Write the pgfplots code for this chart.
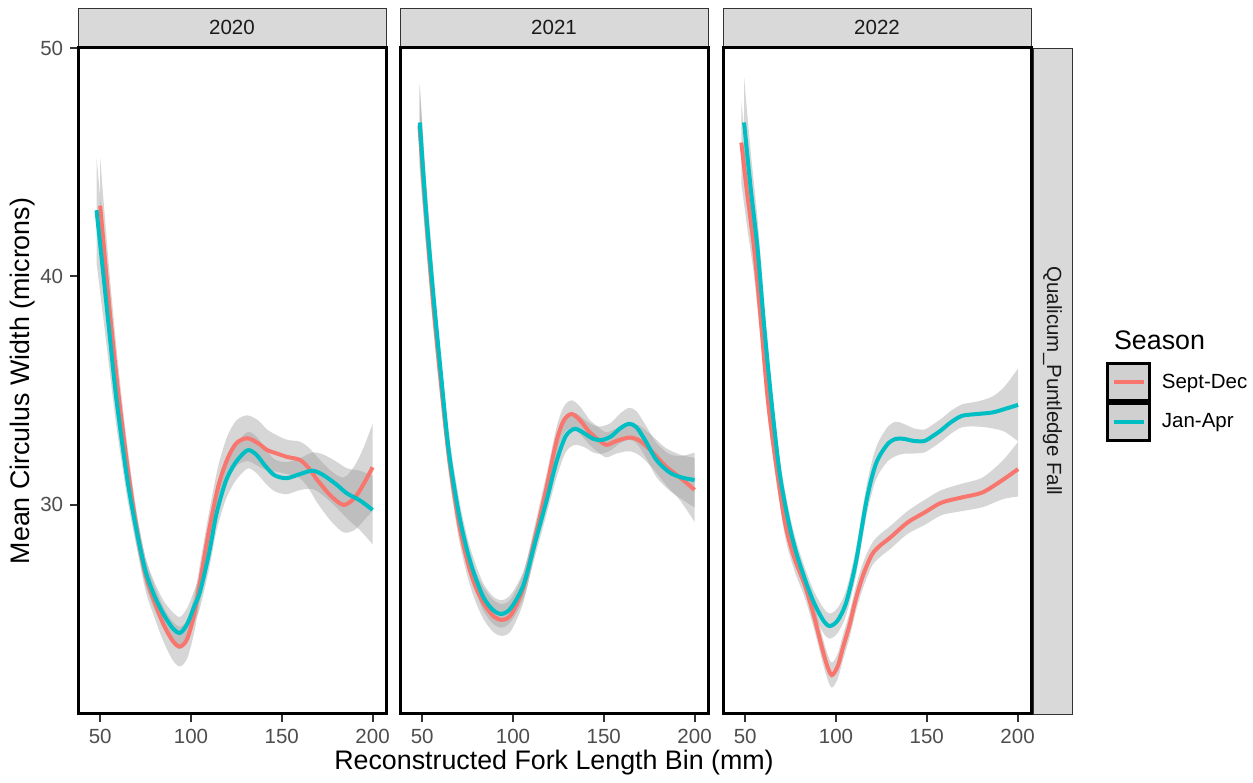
\documentclass[border=0pt]{standalone}
\usepackage{fontspec}
\setmainfont{Liberation Sans}
\usepackage{pgfplots}
\usepackage{pgfplotstable}
\pgfplotsset{compat=1.18}
\usepgfplotslibrary{fillbetween}
\definecolor{sd}{HTML}{F8766D}
\definecolor{ja}{HTML}{00BFC4}
\definecolor{rib}{HTML}{999999}
\definecolor{stripfill}{HTML}{D9D9D9}
\definecolor{stripdraw}{HTML}{333333}
\definecolor{ticklab}{HTML}{4D4D4D}
\definecolor{tickcol}{HTML}{333333}
\definecolor{striptext}{HTML}{1A1A1A}
\definecolor{keygray}{HTML}{D0D0D0}

% 2020
\pgfplotstableread{
x y lo hi
50 43.1 41.0 45.2
55 38.7 37.1 40.3
60 34.9 33.7 36.1
65 31.7 30.8 32.6
70 29.0 28.25 29.75
75 26.95 26.25 27.65
80 25.75 25.05 26.45
85 24.75 24.0 25.5
90 24.05 23.2 24.9
94 23.8 22.93 24.67
98 24.15 23.3 25.0
102 25.3 24.5 26.1
106 27.1 26.3 27.9
110 28.9 28.1 29.7
115 30.8 29.9 31.7
120 32.0 31.0 33.0
125 32.7 31.7 33.7
131 32.92 31.92 33.92
137 32.7 31.7 33.7
142 32.4 31.5 33.3
147 32.26 31.46 33.06
153 32.1 31.35 32.85
160 31.97 31.17 32.77
165 31.6 30.7 32.5
169.5 31.1 30.1 32.1
177 30.4 29.3 31.5
184 30.0 28.8 31.2
190 30.3 28.9 31.7
195 30.9 29.3 32.5
200 31.65 29.75 33.55
}\sdA
\pgfplotstableread{
x y lo hi
48 42.9 40.6 45.2
52 39.9 38.0 41.8
55 37.6 36.0 39.2
59 34.6 33.4 35.8
65 31.1 30.25 31.95
70 28.9 28.2 29.6
75 27.1 26.5 27.7
80 26.0 25.4 26.6
85 25.2 24.6 25.8
90 24.6 23.9 25.3
94 24.4 23.7 25.1
98 24.8 24.1 25.5
102 25.6 24.9 26.3
105 26.2 25.5 26.9
110 27.9 27.2 28.6
114 29.6 28.85 30.35
119 31.0 30.2 31.8
123.3 31.7 30.9 32.5
127 32.1 31.3 32.9
131.5 32.4 31.6 33.2
136 32.2 31.4 33.0
141 31.7 30.95 32.45
146 31.3 30.6 32.0
152.6 31.17 30.47 31.87
160 31.35 30.65 32.05
167 31.5 30.7 32.3
173 31.3 30.4 32.2
180 30.9 29.9 31.9
186 30.5 29.4 31.6
193 30.2 28.9 31.5
200 29.78 28.28 31.28
}\jaA
% 2021
\pgfplotstableread{
x y lo hi
48.5 46.6 44.8 48.4
52 42.8 41.4 44.2
56 38.9 37.8 40.0
60 35.6 34.7 36.5
64.6 32.2 31.4 33.0
70 29.3 28.6 30.0
74.7 27.6 26.95 28.25
79 26.5 25.85 27.15
83.8 25.7 25.0 26.4
89 25.15 24.45 25.85
93.9 24.97 24.27 25.67
99 25.2 24.5 25.9
105.8 26.4 25.75 27.05
112 28.5 27.9 29.1
118.6 30.8 30.2 31.4
124 32.8 32.2 33.4
128 33.7 33.1 34.3
132.3 33.98 33.38 34.58
137 33.7 33.1 34.3
142 33.2 32.65 33.75
147 32.85 32.3 33.4
151.5 32.63 32.08 33.18
157 32.8 32.25 33.35
164.2 32.95 32.35 33.55
170 32.8 32.15 33.45
177 32.3 31.6 33.0
184 31.7 30.9 32.5
192 31.2 30.2 32.2
200 30.66 29.26 32.06
}\sdB
\pgfplotstableread{
x y lo hi
48.7 46.74 45.04 48.44
52 43.0 41.6 44.4
56.4 38.97 37.87 40.07
60 36.0 35.1 36.9
64.6 32.41 31.61 33.21
70 29.7 29.0 30.4
74.7 28.03 27.43 28.63
79 26.9 26.3 27.5
83.8 25.95 25.35 26.55
89 25.4 24.8 26.0
93.9 25.23 24.63 25.83
99 25.5 24.9 26.1
105.8 26.5 25.9 27.1
112 28.3 27.7 28.9
118.6 30.22 29.62 30.82
124 31.9 31.2 32.6
129 33.0 32.3 33.7
134.1 33.33 32.63 34.03
140 33.1 32.5 33.7
144 32.9 32.3 33.5
148.8 32.84 32.24 33.44
154 33.0 32.4 33.6
159 33.35 32.7 34.0
163.9 33.55 32.85 34.25
168 33.4 32.7 34.1
173 32.8 32.1 33.5
179 31.97 31.22 32.72
186.3 31.42 30.62 32.22
193 31.2 30.25 32.15
200 31.09 29.89 32.29
}\jaB
% 2022
\pgfplotstableread{
x y lo hi
47.9 45.86 44.06 47.66
51 43.7 42.2 45.2
55 41.16 39.96 42.36
58.5 38.2 37.2 39.2
62.5 34.6 33.8 35.4
67 31.8 31.1 32.5
72 29.2 28.6 29.8
77 27.7 27.15 28.25
83 26.45 25.9 27.0
88 25.1 24.55 25.65
92 23.85 23.3 24.4
95 23.0 22.45 23.55
97.7 22.55 22.0 23.1
101 22.95 22.4 23.5
104 23.8 23.25 24.35
107.5 24.75 24.2 25.3
111 25.9 25.35 26.45
115 26.94 26.39 27.49
119.7 27.81 27.31 28.31
124 28.2 27.7 28.7
130 28.58 28.08 29.08
139.4 29.23 28.73 29.73
148.8 29.67 29.12 30.22
158.1 30.1 29.55 30.65
169.4 30.33 29.73 30.93
180.7 30.55 29.9 31.2
191.9 31.1 30.25 31.95
200.3 31.57 30.37 32.77
}\sdC
\pgfplotstableread{
x y lo hi
49.4 46.74 44.74 48.74
53 43.9 42.3 45.5
56.9 41.16 39.86 42.46
60.5 37.8 36.8 38.8
64.4 34.6 33.8 35.4
69 31.4 30.75 32.05
73.8 29.3 28.75 29.85
78 27.95 27.45 28.45
83.1 26.7 26.2 27.2
88 25.7 25.2 26.2
93 24.95 24.4 25.5
96.6 24.7 24.15 25.25
101 24.95 24.4 25.5
105.7 25.75 25.2 26.3
111 27.5 26.9 28.1
116.9 30.22 29.57 30.87
122 31.8 31.1 32.5
128.1 32.63 31.88 33.38
132.9 32.89 32.14 33.64
137.5 32.89 32.24 33.54
143 32.8 32.25 33.35
148.8 32.8 32.3 33.3
153 33.0 32.5 33.5
158.1 33.28 32.78 33.78
163 33.6 33.1 34.1
169.4 33.9 33.4 34.4
178 33.98 33.43 34.53
186.3 34.05 33.35 34.75
193 34.2 33.2 35.2
200.3 34.38 32.78 35.98
}\jaC

\newcommand{\tickfont}{\fontsize{10.25}{12}\selectfont}
\newcommand{\labfont}{\fontsize{13.4}{16}\selectfont}

\pgfplotsset{
  panel/.style={
    scale only axis, width=154pt, height=333pt,
    xmin=37.8, xmax=207.4, ymin=20.85, ymax=50.0,
    axis line style={black, line width=1.5pt},
    axis on top,
    tick align=outside, major tick length=3.9pt,
    tick style={color=tickcol, line width=1pt},
    major tick style={color=tickcol, line width=1pt},
    xtick={50,100,150,200}, ytick={30,40,50},
    xtick pos=left, ytick pos=left,
    /pgf/number format/assume math mode=true,
    every tick label/.append style={font=\tickfont, text=ticklab},
  }
}

\newcommand{\band}[2]{%
  \addplot[name path=#1hi, draw=none, smooth, forget plot] table[x=x,y=hi]{#2};
  \addplot[name path=#1lo, draw=none, smooth, forget plot] table[x=x,y=lo]{#2};
  \addplot[fill=rib, fill opacity=0.4, draw=none, forget plot] fill between[of=#1hi and #1lo];
}

\begin{document}
\begin{tikzpicture}
\path (0pt,0pt) rectangle (626.5pt,390pt);

% strips
\draw[fill=stripfill, draw=stripdraw, line width=0.4pt] (39pt,367pt) rectangle (193pt,386pt);
\draw[fill=stripfill, draw=stripdraw, line width=0.4pt] (200pt,367pt) rectangle (354pt,386pt);
\draw[fill=stripfill, draw=stripdraw, line width=0.4pt] (361.5pt,367pt) rectangle (515.5pt,386pt);
\node[font=\tickfont, text=striptext] at (116pt,376.5pt) {2020};
\node[font=\tickfont, text=striptext] at (277pt,376.5pt) {2021};
\node[font=\tickfont, text=striptext] at (438.5pt,376.5pt) {2022};
\draw[fill=stripfill, draw=stripdraw, line width=0.4pt] (516.5pt,33pt) rectangle (536pt,366pt);
\node[font=\tickfont, text=striptext, rotate=-90] at (526.25pt,199.5pt) {Qualicum\_Puntledge Fall};

\begin{axis}[panel, at={(39pt,33pt)}, anchor=south west,
  ylabel={Mean Circulus Width (microns)},
  ylabel style={at={(rel axis cs:-0.1786,0.5)}, anchor=center, font=\labfont},
]
\band{s}{\sdA}
\addplot[sd, line width=2pt, smooth] table[x=x,y=y]{\sdA};
\band{j}{\jaA}
\addplot[ja, line width=2pt, smooth] table[x=x,y=y]{\jaA};
\end{axis}

\begin{axis}[panel, at={(200pt,33pt)}, anchor=south west, ytick=\empty,
  xlabel={Reconstructed Fork Length Bin (mm)},
  xlabel style={at={(rel axis cs:0.5,-0.0736)}, anchor=center, font=\labfont},
]
\band{s}{\sdB}
\addplot[sd, line width=2pt, smooth] table[x=x,y=y]{\sdB};
\band{j}{\jaB}
\addplot[ja, line width=2pt, smooth] table[x=x,y=y]{\jaB};
\end{axis}

\begin{axis}[panel, at={(361.5pt,33pt)}, anchor=south west, ytick=\empty,
  legend style={at={(1.2435,0.5285)}, anchor=north west, draw=none, fill=none,
    inner sep=0pt, row sep=0pt, column sep=5.25pt, font=\tickfont,
    nodes={inner sep=0pt}, cells={anchor=west}},
  legend cell align=left,
  legend image code/.code={%
    \draw[draw=black, line width=1.5pt, fill=keygray] (0pt,-9.25pt) rectangle (21pt,9.25pt);
    \draw[#1] (3.25pt,0pt) -- (18.25pt,0pt);},
]
\band{s}{\sdC}
\addplot[sd, line width=2pt, smooth] table[x=x,y=y]{\sdC};
\addlegendentry{Sept-Dec}
\band{j}{\jaC}
\addplot[ja, line width=2pt, smooth] table[x=x,y=y]{\jaC};
\addlegendentry{Jan-Apr}
\end{axis}

\node[anchor=west, font=\labfont] at (553.5pt,220pt) {Season};
\end{tikzpicture}
\end{document}
